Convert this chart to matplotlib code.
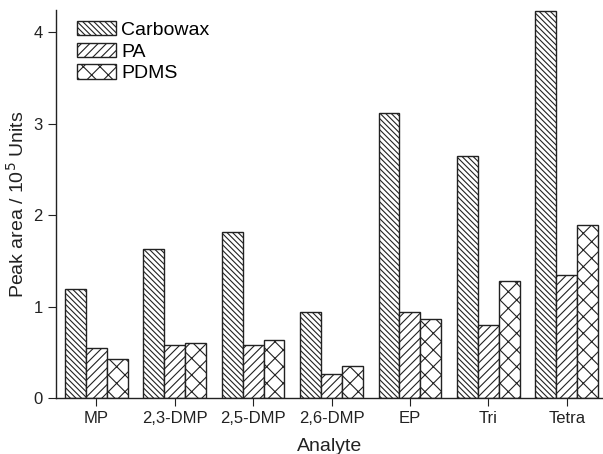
import matplotlib
matplotlib.use("Agg")
import matplotlib.pyplot as plt
import numpy as np

# data
analytes = ["MP", "2,3-DMP", "2,5-DMP", "2,6-DMP", "EP", "Tri", "Tetra"]
carbowax = [1.19, 1.63, 1.82, 0.94, 3.12, 2.65, 4.23]
pa = [0.55, 0.58, 0.58, 0.26, 0.94, 0.80, 1.35]
pdms = [0.43, 0.60, 0.64, 0.35, 0.87, 1.28, 1.89]

plt.rcParams["font.family"] = ["Liberation Sans", "DejaVu Sans"]
plt.rcParams["hatch.linewidth"] = 0.8
plt.rcParams["hatch.color"] = "#222222"

fig = plt.figure(figsize=(6.03, 4.54), dpi=100)
ax = fig.add_axes([0.093, 0.1227, 0.907, 0.855])

x = np.arange(len(analytes))
w = 0.267
series = [
    (carbowax, "Carbowax", "\\\\\\\\\\\\"),
    (pa, "PA", "////"),
    (pdms, "PDMS", "xx"),
]
for i, (vals, name, hatch) in enumerate(series):
    ax.bar(x + (i - 1) * w, vals, width=w, facecolor="white",
           edgecolor="#222222", linewidth=1.0, hatch=hatch, label=name)

ax.set_xlim(-0.51, 6.46)
ax.set_ylim(0, 4.24)
ax.set_xticks(x)
ax.set_xticklabels(analytes, fontsize=12, color="#222222")
ax.set_yticks([0, 1, 2, 3, 4])
ax.tick_params(axis="y", labelsize=12, colors="#222222", direction="out", length=6, width=0.8)
ax.tick_params(axis="x", colors="#222222", direction="out", length=6, width=0.8)

for s in ["top", "right"]:
    ax.spines[s].set_visible(False)
for s in ["left", "bottom"]:
    ax.spines[s].set_color("#222222")
    ax.spines[s].set_linewidth(1.0)

ax.set_xlabel("Analyte", fontsize=14, color="#222222", labelpad=8)
ax.set_ylabel("Peak area / 10$^5$ Units", fontsize=14, color="#222222", labelpad=4)

ax.legend(loc="upper left", bbox_to_anchor=(0.018, 1.0), frameon=False, fontsize=14,
          handlelength=2.0, handleheight=0.75, labelspacing=0.2, handletextpad=0.3,
          borderaxespad=0.15)

fig.savefig("out.png", dpi=100)
